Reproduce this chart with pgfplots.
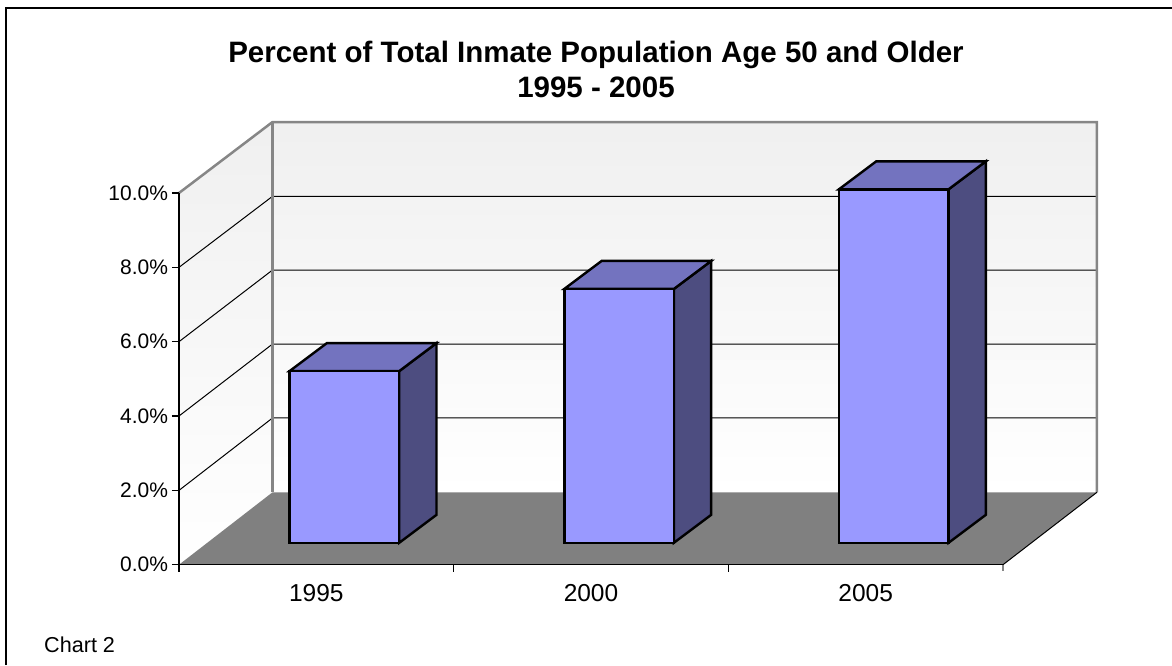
\documentclass[border=0pt]{standalone}
\usepackage{fontspec}
\setmainfont{Liberation Sans}
\usepackage{pgfplots}
\pgfplotsset{compat=1.18}

\definecolor{barfront}{HTML}{9999FF}
\definecolor{bartop}{HTML}{7373BF}
\definecolor{barside}{HTML}{4D4D80}
\definecolor{floorgray}{HTML}{808080}
\definecolor{wallgray}{HTML}{868686}

% one 3D bar: #1 category centre, #2 value (%)
\newcommand{\threedbar}[2]{%
  \pgfmathsetmacro\xa{#1-0.1995+0.1023}%
  \pgfmathsetmacro\xb{#1+0.1995+0.1023}%
  \pgfmathsetmacro\xc{\xa+0.1358}%
  \pgfmathsetmacro\xd{\xb+0.1358}%
  \pgfmathsetmacro\ya{0.589}%
  \pgfmathsetmacro\yb{#2+0.589}%
  \pgfmathsetmacro\yc{\ya+0.753}%
  \pgfmathsetmacro\yd{\yb+0.753}%
  \addplot[black,line width=2.4pt,line join=miter,fill=barside] coordinates {(\xb,\ya) (\xd,\yc) (\xd,\yd) (\xb,\yb)} --cycle;
  \addplot[black,line width=2.4pt,line join=miter,fill=bartop] coordinates {(\xa,\yb) (\xb,\yb) (\xd,\yd) (\xc,\yd)} --cycle;
  \addplot[black,line width=2.4pt,line join=miter,fill=barfront] coordinates {(\xa,\ya) (\xb,\ya) (\xb,\yb) (\xa,\yb)} --cycle;
}

\begin{document}
\begin{tikzpicture}
\useasboundingbox (-179pt,-100.3pt) rectangle (993pt,564.7pt);
\begin{axis}[
    at={(0,0)},anchor=south west,
    scale only axis,
    width=824pt,height=371.7pt,
    xmin=0,xmax=3,ymin=0,ymax=10,
    clip=false,
    axis on top=true,
    axis x line=bottom,axis y line=left,
    axis line style={-,line width=1.4pt,black},
    tick style={black,line width=1.1pt},
    tick align=outside,
    major tick length=7pt,
    ytick={0,2,4,6,8,10},
    yticklabel={\pgfmathprintnumber[fixed,fixed zerofill,precision=1,assume math mode=true]{\tick}\%},
    yticklabel style={font=\fontsize{21}{25}\selectfont,xshift=-0.5pt},
    xtick={0,1,2},
    xticklabels={},
    extra x ticks={0.5,1.5,2.5},
    extra x tick labels={1995,2000,2005},
    extra x tick style={major tick length=0pt,
      xticklabel style={font=\fontsize{24.5}{29}\selectfont,yshift=-16pt}},
  ]
  % side wall and back wall
  \addplot[draw=none,top color=black!6,bottom color=white] coordinates {(0,0) (0.3405,1.948) (0.3405,11.91) (0,10)} --cycle;
  \addplot[draw=none,top color=black!6,bottom color=white] coordinates {(0.3405,1.948) (3.3420,1.948) (3.3420,11.91) (0.3405,11.91)} --cycle;
  % gridlines on the walls
  \addplot[black,line width=1pt] coordinates {(0,2) (0.3405,3.947) (3.3420,3.947)};
  \addplot[black,line width=1pt] coordinates {(0,4) (0.3405,5.937) (3.3420,5.937)};
  \addplot[black,line width=1pt] coordinates {(0,6) (0.3405,7.928) (3.3420,7.928)};
  \addplot[black,line width=1pt] coordinates {(0,8) (0.3405,9.911) (3.3420,9.911)};
  % wall edges
  \addplot[wallgray,line width=2.5pt,line join=miter] coordinates {(0,10) (0.3405,11.91) (3.3420,11.91) (3.3420,1.948)};
  \addplot[wallgray,line width=3.5pt] coordinates {(0.3405,1.948) (0.3405,11.91)};
  % floor
  \addplot[draw=none,fill=floorgray] coordinates {(0,0) (3,0) (3.3420,1.948) (0.3405,1.948)} --cycle;
  \addplot[black,line width=1pt] coordinates {(3,0) (3.3420,1.948)};
  \addplot[wallgray,line width=1.5pt] coordinates {(3,0) (3,-0.18)};
  % bars
  \threedbar{0.5}{4.62}
  \threedbar{1.5}{6.83}
  \threedbar{2.5}{9.51}
\end{axis}
\begin{scope}[shift={(-179pt,564.7pt)},x=1pt,y=-1pt]
  \draw[black,line width=2pt] (6,665) -- (6,8.5) -- (1172,8.5);
  \node[font=\fontsize{29.5}{35}\selectfont\bfseries,align=center,anchor=center] at (596,69.5)
    {Percent of Total Inmate Population Age 50 and Older\\1995 - 2005};
  \node[font=\fontsize{21.6}{26}\selectfont,anchor=base west,inner sep=0pt] at (44,652.3) {Chart 2};
\end{scope}
\end{tikzpicture}
\end{document}
